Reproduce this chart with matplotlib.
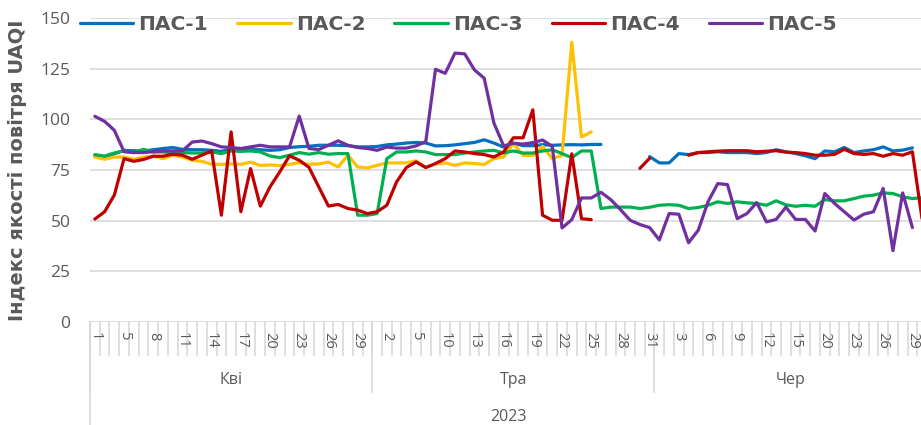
import numpy as np
import matplotlib.pyplot as plt

# 1. Дані: дні (категорії осі X) та значення UAQI для кожного ПАС
months = ['Кві', 'Тра', 'Чер']
year = '2023'
apr_days = [1, 2, 4, 5, 6, 7, 8, 9, 10, 11, 12, 13, 14, 15, 16, 17, 18, 19, 20,
            21, 22, 23, 24, 25, 26, 27, 28, 29, 30]
may_days = [1, 2, 3, 4, 5, 6, 9, 10, 11, 12, 13, 14, 15, 16, 17, 18, 19, 20, 21,
            22, 23, 24, 25, 26, 27, 28, 29, 30, 31]
jun_days = [1, 2, 3, 4, 5, 6, 7, 8, 9, 10, 11, 12, 13, 14, 15, 16, 19, 20, 21,
            22, 23, 24, 25, 26, 27, 28, 29, 30]

nan = np.nan
pas1 = [82, 81.5, 83, 84.7, 84.5, 84.4, 85, 85.6, 86.1, 85.2, 85, 85, 84.7, 84.2, 85.4,
        85.5, 85, 85, 84.7, 85, 86.1, 86.5, 86.7, 87.2, 87.2, 87.2, 87, 86.4, 86.4,
        86.6, 87.4, 87.8, 88.3, 88.6, 88.3, 86.9, 87, 87.4, 88, 88.6, 89.9, 88.3, 86.3,
        88.2, 87, 87, 87.5, 87.2, 87.4, 87.5, 87.4, 87.6, 87.6, nan, nan, nan, nan, 81.6,
        78.5, 78.5, 83.1, 82.6, 83.6, 83.6, 84, 83.6, 83.6, 83.6, 83.1, 83.6, 85, 84,
        83.1, 82, 80.6, 84.4, 84, 86.1, 83.6, 84.4, 85, 86.4, 84.4, 84.8, 85.9, nan]
pas2 = [81.4, 80.3, 81.4, 81.4, 80.3, 81.4, 81.8, 80.6, 82.3, 81.4, 79.8, 79.3, 77.8, 77.8,
        78, 77.8, 78.9, 77.2, 77.5, 77.2, 77.8, 78.6, 77.8, 78, 78.9, 76.5, 82.3, 76.5, 76,
        77.3, 78.5, 78.5, 78.5, 79.5, 76.3, 77.9, 78.5, 77.3, 78.5, 78.2, 77.7, 80.6, 81.4,
        88, 82.2, 82.2, 86.6, 80.6, 82.2, 138, 91.3, 93.8, nan, nan, nan, nan, nan, nan,
        nan, nan, nan, nan, nan, nan, nan, nan, nan, nan, nan, nan, nan, nan, nan, nan,
        nan, nan, nan, nan, nan, nan, nan, nan, nan, nan, nan, nan]
pas3 = [82.6, 81.9, 83.4, 84.4, 83.6, 85.2, 83.9, 83.9, 83.6, 83.6, 83.4, 83.4, 83.9, 83.1,
        84.4, 84.2, 84.4, 83.9, 81.9, 81.1, 82.3, 83.6, 82.8, 83.6, 82.8, 83.1, 83.1, 52.7,
        52.7,
        53.5, 80.6, 83.9, 83.9, 84.4, 83.9, 82.6, 82.6, 82.6, 83.4, 83.9, 84.4, 84.7, 83.4,
        84.4, 83.4, 83.4, 84.4, 85, 83.1, 81.1, 84.4, 84.4, 56, 56.7, 56.7, 56.7, 56, 56.6,
        57.6, 57.9, 57.6, 56, 56.5, 57.6, 59.3, 58.5, 59.3, 58.8, 58.5, 57.6, 59.8, 57.8,
        57.1, 57.6, 57.1, 60.4, 59.8, 59.8, 60.9, 62.1, 62.6, 63.7, 63.4, 61.8, 60.9, 61.4]
pas4 = [50.8, 54.4, 62.6, 80.6, 79.3, 80.2, 81.8, 81.8, 82.8, 82.3, 80.3, 82.3, 84.4, 52.7,
        93.8, 54.4, 75.7, 57.2, 66.7, 74.1, 82, 79.8, 76.3, 66.7, 57.2, 58, 56, 55.2, 53.5,
        54.4, 57.6, 69.1, 76.2, 79, 76.2, 78.2, 80.6, 84.4, 83.9, 83.1, 82.6, 81.4, 83.9,
        90.9, 90.9, 104.7, 52.7, 50.2, 50.2, 83, 51, 50.5, nan, nan, nan, nan, 75.8, 80.8,
        nan, nan, nan, 82.3, 83.6, 84, 84.3, 84.5, 84.5, 84.5, 84, 84.3, 84.5, 83.8, 83.6,
        83.1, 82.3, 82.3, 82.7, 85.2, 83.1, 82.7, 83.1, 81.8, 83.1, 82.3, 84, 50.6]
pas5 = [101.5, 99, 94.6, 84, 83.6, 83.6, 84, 84.4, 84.4, 84.4, 88.8, 89.3, 88, 86.4, 86.1,
        85.6, 86.4, 87.2, 86.4, 86.4, 86.4, 101.6, 85.6, 85.1, 87.2, 89.4, 87.2, 86.1, 85.6,
        84.7, 86.3, 85.8, 85.8, 86.9, 89, 124.7, 122.7, 132.7, 132.3, 124.4, 120.3, 98.2,
        86.9, 88.2, 87.8, 88.5, 89.8, 86.6, 46.4, 50.5, 61.2, 61.2, 64, 60.4, 55.5, 50.2,
        48.1, 46.6,
        40.5, 53.5, 53.2, 39.1, 45.3, 59.3, 68.3, 67.8, 51, 53.5, 58.9, 49.4, 50.6, 56.7,
        50.6, 50.6, 44.9, 63.4, 58.5, 54.4, 50.3, 53.2, 54.4, 65.9, 35.2, 63.7, 46.6, nan]

names = ['ПАС-1', 'ПАС-2', 'ПАС-3', 'ПАС-4', 'ПАС-5']
colors = ['#0070C0', '#FFC000', '#00B050', '#C00000', '#7030A0']
series = [pas1, pas2, pas3, pas4, pas5]

plt.rcParams['font.family'] = ['Open Sans', 'DejaVu Sans']
grey = '#595959'
grid_c = '#d9d9d9'

days = apr_days + may_days + jun_days
n = len(days)
x = np.arange(n)

# 2. Побудова графіка
fig = plt.figure(figsize=(9.21, 4.25), dpi=100)
ax = fig.add_axes([90 / 921, 103 / 425, 837 / 921, 304 / 425])

for vals, name, color in zip(series, names, colors):
    ax.plot(x, vals, color=color, lw=2.3, label=name,
            solid_capstyle='round', solid_joinstyle='round')

ax.set_xlim(-0.5, n - 0.5)
ax.set_ylim(0, 150)
ax.set_yticks(range(0, 151, 25))
ax.grid(axis='y', color=grid_c, lw=1.2)
ax.set_axisbelow(True)
for s in ax.spines.values():
    s.set_visible(False)
ax.tick_params(axis='y', length=0, pad=14, labelsize=12.5, labelcolor=grey)
ax.set_xticks([])

# 3. Багаторівнева вісь X (день / місяць / рік)
trans = ax.get_xaxis_transform()
for b in np.arange(-0.5, n):
    ax.plot([b, b], [0, -33 / 304], transform=trans, clip_on=False, color=grid_c, lw=1.2)
month_len = [len(apr_days), len(may_days), len(jun_days)]
edges = np.concatenate([[0], np.cumsum(month_len)]) - 0.5
for b in edges:
    ax.plot([b, b], [0, -70 / 304], transform=trans, clip_on=False, color=grid_c, lw=1.2)
ax.plot([-0.5, -0.5], [0, -103 / 304], transform=trans, clip_on=False, color=grid_c, lw=1.2)

for i in range(0, n, 3):
    ax.text(i, -10 / 304, str(days[i]), rotation=270, ha='center', va='top',
            transform=trans, fontsize=10.5, color=grey)
for m, lo, hi in zip(months, edges[:-1], edges[1:]):
    ax.text((lo + hi) / 2, -58 / 304, m, ha='center', va='center',
            transform=trans, fontsize=11.5, color=grey)
ax.text((n - 1) / 2, -95 / 304, year, ha='center', va='center',
        transform=trans, fontsize=11.5, color=grey)

# 4. Підпис осі Y та легенда
fig.text(18 / 921, 1 - 170 / 425, 'Індекс якості повітря UAQI', rotation=90,
         ha='center', va='center', fontsize=14, fontweight='bold', color=grey,
         family=['DejaVu Sans'])
fig.legend(loc='center left', bbox_to_anchor=(80 / 921, 1 - 25 / 425), ncol=5,
           frameon=False, handlelength=2.65, handletextpad=0.25, columnspacing=1.45,
           borderpad=0, borderaxespad=0, labelcolor=grey,
           prop={'family': 'DejaVu Sans', 'weight': 'bold', 'size': 14.5})

plt.savefig('out.png', dpi=100)
